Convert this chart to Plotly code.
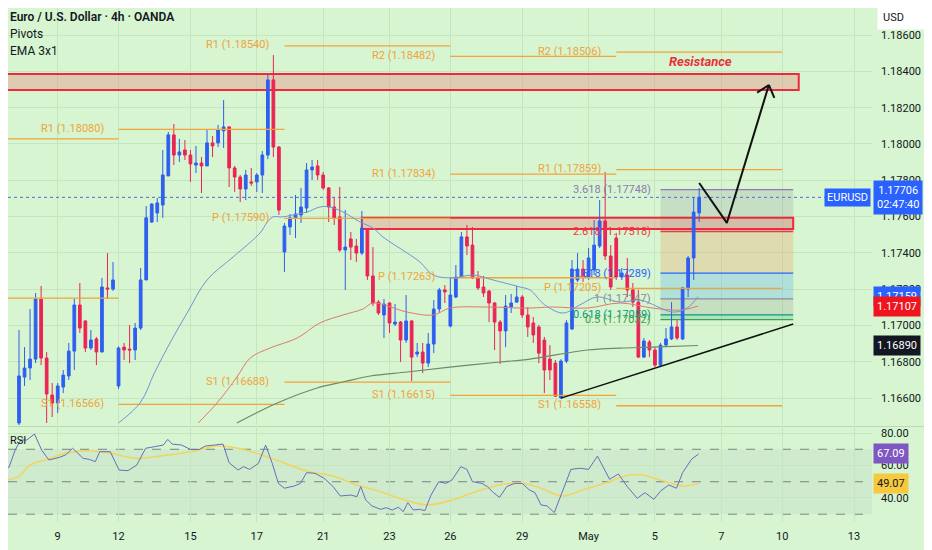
import math

import plotly.graph_objects as go

# 4h EUR/USD bars, index 0 = first bar visible on the left edge
opens = [1.16463, 1.16716, 1.16766, 1.16815, 1.17146, 1.16821, 1.16617, 1.16573, 1.16661, 1.16722,
         1.16859, 1.17113, 1.17025, 1.16876, 1.16926, 1.16854, 1.17207, 1.17201, 1.16667, 1.16881,
         1.16870, 1.16865, 1.16986, 1.17251, 1.17570, 1.17620, 1.17664, 1.17824, 1.18050, 1.17939,
         1.17967, 1.17939, 1.17884, 1.17895, 1.17879, 1.18006, 1.18006, 1.18072, 1.18094, 1.17868,
         1.17818, 1.17752, 1.17791, 1.17791, 1.17829, 1.17939, 1.18353, 1.17983, 1.17405, 1.17543,
         1.17593, 1.17609, 1.17647, 1.17857, 1.17879, 1.17829, 1.17758, 1.17653, 1.17598, 1.17416,
         1.17477, 1.17438, 1.17399, 1.17532, 1.17273, 1.17129, 1.17058, 1.17124, 1.17008, 1.17019,
         1.16920, 1.17025, 1.16843, 1.16854, 1.16793, 1.16898, 1.17091, 1.17196, 1.16997, 1.17157,
         1.17267, 1.17488, 1.17443, 1.17262, 1.17212, 1.17190, 1.17124, 1.17019, 1.16970, 1.17102,
         1.17129, 1.17157, 1.17058, 1.17014, 1.16992, 1.16920, 1.16815, 1.16793, 1.16601, 1.16804,
         1.16981, 1.17251, 1.17311, 1.17267, 1.17306, 1.17438, 1.17576, 1.17383, 1.17482, 1.17267,
         1.17278, 1.17196, 1.17129, 1.16826, 1.16909, 1.16865, 1.16782, 1.16892, 1.16926, 1.16992,
         1.16926, 1.17201, 1.17372, 1.17620]
highs = [1.16975, 1.16881, 1.17091, 1.17179, 1.17218, 1.16854, 1.16683, 1.16683, 1.16755, 1.16904,
         1.17146, 1.17234, 1.17030, 1.16975, 1.16937, 1.17262, 1.17399, 1.17350, 1.16885, 1.16904,
         1.17003, 1.17014, 1.17317, 1.17658, 1.17675, 1.17702, 1.17967, 1.18066, 1.18110, 1.18028,
         1.18022, 1.17967, 1.17989, 1.17928, 1.18077, 1.18044, 1.18105, 1.18242, 1.18099, 1.17879,
         1.17829, 1.17857, 1.17868, 1.17840, 1.17961, 1.18380, 1.18490, 1.17989, 1.17565, 1.17614,
         1.17719, 1.17758, 1.17895, 1.17912, 1.17912, 1.17846, 1.17763, 1.17708, 1.17763, 1.17636,
         1.17515, 1.17477, 1.17631, 1.17537, 1.17432, 1.17140, 1.17146, 1.17129, 1.17118, 1.17025,
         1.17168, 1.17030, 1.16904, 1.16904, 1.16959, 1.17140, 1.17207, 1.17223, 1.17267, 1.17333,
         1.17515, 1.17554, 1.17543, 1.17300, 1.17273, 1.17196, 1.17129, 1.17030, 1.17168, 1.17174,
         1.17218, 1.17168, 1.17102, 1.17047, 1.17003, 1.16937, 1.16892, 1.16810, 1.16815, 1.17030,
         1.17361, 1.17399, 1.17361, 1.17427, 1.17581, 1.17691, 1.17846, 1.17443, 1.17510, 1.17317,
         1.17372, 1.17234, 1.17196, 1.16931, 1.16920, 1.16881, 1.16904, 1.16986, 1.17129, 1.17030,
         1.17212, 1.17383, 1.17708, 1.17758]
lows = [1.16446, 1.16667, 1.16700, 1.16793, 1.16782, 1.16463, 1.16496, 1.16518, 1.16628, 1.16700,
        1.16755, 1.16959, 1.16854, 1.16865, 1.16782, 1.16854, 1.17146, 1.17190, 1.16650, 1.16810,
        1.16793, 1.16810, 1.16975, 1.17251, 1.17565, 1.17570, 1.17593, 1.17824, 1.17884, 1.17901,
        1.17912, 1.17791, 1.17840, 1.17730, 1.17879, 1.17928, 1.17983, 1.17978, 1.17763, 1.17736,
        1.17680, 1.17691, 1.17769, 1.17736, 1.17730, 1.17917, 1.17928, 1.17609, 1.17295, 1.17499,
        1.17482, 1.17565, 1.17620, 1.17802, 1.17802, 1.17747, 1.17570, 1.17554, 1.17405, 1.17196,
        1.17361, 1.17350, 1.17388, 1.17251, 1.17107, 1.17058, 1.16931, 1.16959, 1.16997, 1.16799,
        1.16904, 1.16694, 1.16826, 1.16738, 1.16771, 1.16848, 1.17069, 1.17124, 1.16990, 1.17151,
        1.17262, 1.17388, 1.17256, 1.17196, 1.17157, 1.17019, 1.16865, 1.16788, 1.16881, 1.17069,
        1.17124, 1.17041, 1.16937, 1.16904, 1.16793, 1.16628, 1.16700, 1.16606, 1.16595, 1.16793,
        1.16975, 1.17240, 1.17240, 1.17251, 1.17278, 1.17427, 1.17361, 1.17196, 1.17251, 1.17251,
        1.17157, 1.17102, 1.16821, 1.16821, 1.16826, 1.16771, 1.16771, 1.16881, 1.16920, 1.16920,
        1.16920, 1.17157, 1.17251, 1.17570]
closes = [1.16722, 1.16766, 1.16815, 1.17146, 1.16821, 1.16623, 1.16573, 1.16667, 1.16727, 1.16859,
          1.17113, 1.16986, 1.16876, 1.16920, 1.16854, 1.17212, 1.17201, 1.17251, 1.16876, 1.16865,
          1.16865, 1.16986, 1.17251, 1.17593, 1.17669, 1.17675, 1.17829, 1.18050, 1.17939, 1.17956,
          1.17939, 1.17890, 1.17895, 1.17879, 1.18006, 1.17989, 1.18077, 1.18094, 1.17868, 1.17818,
          1.17752, 1.17829, 1.17785, 1.17829, 1.17939, 1.18353, 1.17983, 1.17636, 1.17548, 1.17593,
          1.17614, 1.17653, 1.17857, 1.17873, 1.17829, 1.17758, 1.17653, 1.17593, 1.17416, 1.17432,
          1.17432, 1.17399, 1.17537, 1.17273, 1.17124, 1.17069, 1.17118, 1.17014, 1.17019, 1.16920,
          1.17025, 1.16826, 1.16854, 1.16793, 1.16898, 1.17091, 1.17196, 1.17185, 1.17168, 1.17267,
          1.17488, 1.17438, 1.17262, 1.17207, 1.17179, 1.17124, 1.17019, 1.16970, 1.17107, 1.17124,
          1.17157, 1.17058, 1.16992, 1.16948, 1.16848, 1.16755, 1.16755, 1.16610, 1.16804, 1.17014,
          1.17311, 1.17311, 1.17273, 1.17372, 1.17443, 1.17576, 1.17383, 1.17212, 1.17267, 1.17289,
          1.17196, 1.17129, 1.16826, 1.16915, 1.16865, 1.16782, 1.16892, 1.16926, 1.16992, 1.16931,
          1.17207, 1.17372, 1.17625, 1.17706]
last_price = 1.17706

# moving averages (bar index, price)
ema_fast_idx = [18, 22, 24.5, 27.3, 30.4, 34, 38.7, 43.6, 44.8, 45.9, 47.7, 49.5, 52.1, 54.4, 56.2,
                58.6, 61.7, 64, 65.8, 70.2, 72.5, 74.9, 78.5, 82.1, 85.7, 90.6, 92.4, 95.1, 98.4,
                101.4, 104.5, 108.7, 112.3, 118.3, 120.8, 122.8]
ema_fast = [1.16463, 1.16578, 1.16740, 1.16904, 1.17069, 1.17251, 1.17377, 1.17510, 1.17565, 1.17598,
            1.17598, 1.17609, 1.17625, 1.17653, 1.17653, 1.17625, 1.17570, 1.17537, 1.17488, 1.17399,
            1.17350, 1.17278, 1.17262, 1.17278, 1.17251, 1.17212, 1.17196, 1.17113, 1.17069, 1.17113,
            1.17157, 1.17129, 1.17140, 1.17074, 1.17096, 1.17159]
ema_mid_idx = [32.4, 35.8, 39.4, 41.8, 45.4, 50.3, 54.4, 58.6, 62.2, 64, 70.2, 74.9, 77.9, 84.6,
               91.9, 96.6, 102.7, 108.7, 114.6, 119.5, 122.8]
ema_mid = [1.16463, 1.16573, 1.16716, 1.16821, 1.16876, 1.16931, 1.17014, 1.17058, 1.17091, 1.17124,
           1.17074, 1.17058, 1.17096, 1.17102, 1.17096, 1.17102, 1.17096, 1.17124, 1.17096, 1.17085,
           1.17107]
ema_slow_idx = [39.4, 46.7, 53.9, 58.6, 63.5, 70.2, 77.9, 87, 92.4, 102.7, 108.7, 114.6, 122.8]
ema_slow = [1.16463, 1.16573, 1.16656, 1.16689, 1.16722, 1.16744, 1.16771, 1.16799, 1.16815,
            1.16865, 1.16876, 1.16881, 1.16890]

# RSI and its moving average
rsi_idx = [-3.4, -1.8, -0.7, 0.3, 1.4, 2.8, 4.1, 5.4, 7.3, 8.4, 9.7, 11.6, 12.7, 13.8, 14.6, 16.5,
           18.1, 19.7, 21.3, 22.9, 24.5, 26.1, 26.9, 27.7, 29.4, 31.0, 32.6, 33.7, 35.3, 36.9, 38.0,
           39.6, 40.6, 41.7, 43.3, 44.6, 45.8, 46.9, 48.0, 49.8, 50.9, 52.0, 53.5, 55.2, 56.8, 58.1,
           60.0, 61.1, 61.8, 62.7, 63.8, 65.4, 66.4, 67.5, 68.6, 69.5, 70.3, 71.3, 72.4, 73.4, 74.5,
           75.9, 77.2, 78.3, 79.9, 81.0, 82.0, 83.7, 84.7, 85.8, 86.9, 88.2, 89.6, 91.0, 92.3, 93.3,
           94.4, 95.5, 96.8, 98.2, 99.8, 101.4, 103.0, 104.6, 106.8, 108.4, 110.0, 111.8, 113.2,
           114.8, 116.1, 117.5, 118.9, 120.0, 121.6, 122.9]
rsi_val = [56.2, 59, 69.5, 75.7, 75.7, 79.4, 69.5, 63.4, 65, 66.5, 70.6, 64.4, 63.8, 62.4, 68.5, 68.5,
           57.2, 56.8, 60.3, 70.6, 71.6, 72.6, 76.1, 73.2, 72.6, 69.9, 69.9, 72, 72.6, 73.2, 61.7,
           57.2, 59.3, 57.6, 61.3, 72.6, 61.3, 49, 46, 47.4, 49, 55.6, 55.2, 52.1, 47, 41.2,
           41.8, 40.8, 47, 38.8, 35.1, 33, 34, 32.6, 34.3, 31.6, 37.1, 32.6, 33, 32.2, 41.8,
           50, 49, 51.1, 59.3, 57.6, 50, 49, 47, 43.3, 40.4, 47, 49, 49, 44.9, 43.3,
           35.7, 35.1, 31, 43.3, 57.6, 58.3, 57.6, 65.8, 51.5, 54.8, 47, 39.8, 43.3,
           39.2, 44.5, 48, 46, 55.6, 63.8, 67.09]
rsi_ma_idx = [-3.4, -0.2, 2.0, 5.2, 8.4, 12.7, 16.5, 21.3, 25.6, 31.0, 35.8, 39.6, 43.9, 48.2, 52.5,
              56.8, 61.1, 65.4, 69.7, 74.0, 78.3, 82.6, 86.9, 91.2, 94.4, 98.2, 101.9, 106.2, 110.5,
              112.7, 115.9, 120.2, 122.9]
rsi_ma = [50.5, 53, 60.3, 63.8, 67.5, 69.1, 67.5, 64.4, 65.8, 68.5, 72, 70.6, 66.5, 61.3, 56.2,
          53.5, 48, 43.9, 38.8, 35.7, 38.8, 43.9, 48, 49, 46, 41.2, 44.9, 49.4, 54.2,
          54.2, 51.1, 47.4, 49.07]

# weekly pivots
piv_name = ["R1", "P", "R1", "S1", "R1", "P", "S1", "R2", "R1", "P", "S1", "R2", "R1", "P", "S1"]
piv_value = [1.18028, 1.17151, 1.18080, 1.16566, 1.18540, 1.17590, 1.16688,
             1.18482, 1.17834, 1.17263, 1.16615, 1.18506, 1.17859, 1.17205, 1.16558]
piv_start = [-4, -4, 18, 18, 48, 48, 48, 78, 78, 78, 78, 108, 108, 108, 108]
piv_end = [18, 18, 48, 48, 78, 78, 78, 108, 108, 108, 108, 138, 138, 138, 138]

# fibonacci extension box
fib_ratio = ["3.618", "2.618", "1.618", "1", "0.618", "0.5"]
fib_price = [1.17748, 1.17518, 1.17289, 1.17147, 1.17059, 1.17032]
fib_start, fib_end = 116, 140

# resistance zones
zone_lo = [1.18298, 1.17532]
zone_hi = [1.18386, 1.17593]
zone_start = [-4, 62]
zone_end = [141, 140]

# drawings
trend_idx = [98, 140]
trend_price = [1.16600, 1.17008]
path_idx = [123, 128, 135.6]
path_price = [1.17785, 1.17565, 1.18325]

tick_idx = [7, 18, 31, 43, 55, 67, 78, 91, 103, 115, 127, 138, 151]
tick_text = ["9", "12", "15", "17", "21", "23", "26", "29", "May", "5", "7", "10", "13"]
price_ticks = [1.166, 1.168, 1.170, 1.172, 1.174, 1.176, 1.178, 1.180, 1.182, 1.184, 1.186]
rsi_ticks = [40, 60, 80]

BG = "#d6f5d0"
GRID = "#c4e6bf"
UP = "#2f5ff0"
DOWN = "#ec2456"
ORANGE = "#f2a33a"
TXT = "#131722"
FIB_LINE = ["#9079b8", "#f23645", "#2962ff", "#8a8d96", "#089981", "#43a047"]
FIB_FILL = ["rgba(130,130,150,0.20)", "rgba(240,160,100,0.30)", "rgba(80,170,240,0.28)",
            "rgba(130,130,130,0.18)", "rgba(8,153,129,0.20)"]

# the page puts the figure 8px in from the corner, so the figure covers the
# reference from (8, 8) onwards
X0, X1 = -1.99, 154.25
Y0, Y1 = 1.16452, 1.18749
R0, R1 = 25.2, 83.1
PLOT_W, PLOT_H, MAIN_H, RSI_H = 864, 514, 417, 94
OFF = 8

fig = go.Figure()

# pivot lines
for name, val, s, e in zip(piv_name, piv_value, piv_start, piv_end):
    fig.add_trace(go.Scatter(x=[s, e], y=[val, val], mode="lines",
                             line=dict(color=ORANGE, width=1.3), hoverinfo="skip"))
    if s >= 0:
        fig.add_annotation(x=s, y=val, text=f"{name} ({val:.5f})", showarrow=False,
                           xanchor="right", xshift=-13, yshift=1,
                           font=dict(size=11, color=ORANGE))

# moving averages
for xs, ys, col, w in [(ema_slow_idx, ema_slow, "#6d8a6a", 1.2),
                       (ema_mid_idx, ema_mid, "#df7a6c", 1),
                       (ema_fast_idx, ema_fast, "#6f95d8", 1)]:
    fig.add_trace(go.Scatter(x=xs, y=ys, mode="lines", line=dict(color=col, width=w, shape="spline"),
                             hoverinfo="skip"))

fig.add_trace(go.Candlestick(
    x=list(range(len(opens))), open=opens, high=highs, low=lows, close=closes,
    increasing=dict(line=dict(color=UP, width=1), fillcolor=UP),
    decreasing=dict(line=dict(color=DOWN, width=1), fillcolor=DOWN),
    whiskerwidth=0, hoverinfo="skip",
))

# trendline and projected path
fig.add_trace(go.Scatter(x=trend_idx, y=trend_price, mode="lines", line=dict(color="#111", width=1.5),
                         hoverinfo="skip"))
fig.add_trace(go.Scatter(x=path_idx, y=path_price, mode="lines", line=dict(color="#111", width=2),
                         hoverinfo="skip"))

# open arrow head at the end of the path, built in pixel space
sx = PLOT_W / (X1 - X0)
sy = MAIN_H / (Y1 - Y0)
dx = (path_idx[-1] - path_idx[-2]) * sx
dy = (path_price[-1] - path_price[-2]) * sy
norm = math.hypot(dx, dy)
ux, uy = dx / norm, dy / norm
wing_x, wing_y = [], []
for ang in (math.radians(40), -math.radians(40)):
    rx = ux * math.cos(ang) - uy * math.sin(ang)
    ry = ux * math.sin(ang) + uy * math.cos(ang)
    wing_x += [path_idx[-1] - 14 * rx / sx, path_idx[-1], None]
    wing_y += [path_price[-1] - 14 * ry / sy, path_price[-1], None]
fig.add_trace(go.Scatter(x=wing_x, y=wing_y, mode="lines", line=dict(color="#111", width=2),
                         hoverinfo="skip"))

# RSI pane
fig.add_trace(go.Scatter(x=rsi_ma_idx, y=rsi_ma, xaxis="x2", yaxis="y2", mode="lines",
                         line=dict(color="#f2d463", width=1.6, shape="spline"), hoverinfo="skip"))
fig.add_trace(go.Scatter(x=rsi_idx, y=rsi_val, xaxis="x2", yaxis="y2", mode="lines",
                         line=dict(color="#6a6cc0", width=1), hoverinfo="skip"))

shapes = []
for k in range(len(fib_price) - 1):
    shapes.append(dict(type="rect", xref="x", yref="y", x0=fib_start, x1=fib_end,
                       y0=fib_price[k + 1], y1=fib_price[k], fillcolor=FIB_FILL[k],
                       line=dict(width=0), layer="between"))
for lo, hi, s, e in zip(zone_lo, zone_hi, zone_start, zone_end):
    shapes.append(dict(type="rect", xref="x", yref="y", x0=s, x1=e, y0=lo, y1=hi,
                       fillcolor="rgba(235,130,120,0.35)", line=dict(color="#ee2a3c", width=2),
                       layer="between"))
for k, (r, p) in enumerate(zip(fib_ratio, fib_price)):
    shapes.append(dict(type="line", xref="x", yref="y", x0=fib_start, x1=fib_end, y0=p, y1=p,
                       line=dict(color=FIB_LINE[k], width=1.3), layer="between"))
    fig.add_annotation(x=fib_start, y=p, text=f"{r} ({p:.5f})", showarrow=False,
                       xanchor="right", xshift=-7, font=dict(size=11, color=FIB_LINE[k]))

shapes.append(dict(type="line", xref="x", yref="y", x0=X0, x1=X1, y0=last_price, y1=last_price,
                   line=dict(color="#4a6fd8", width=1, dash="dot"), layer="between"))
shapes.append(dict(type="rect", xref="x2", yref="y2", x0=X0, x1=X1, y0=30, y1=70,
                   fillcolor="rgba(120,110,170,0.07)", line=dict(width=0), layer="below"))
for lvl in (70, 50, 30):
    shapes.append(dict(type="line", xref="x2", yref="y2", x0=X0, x1=X1, y0=lvl, y1=lvl,
                       line=dict(color="#7d8580", width=1, dash="dash"), layer="below"))
sep_y = 1 - (MAIN_H + 1.5) / PLOT_H
shapes.append(dict(type="line", xref="paper", yref="paper", x0=0, x1=1.07, y0=sep_y, y1=sep_y,
                   line=dict(color="#b9dbb4", width=1)))

fig.add_annotation(x=path_idx[-1] - 12.4, y=1.18457, text="<b><i>Resistance</i></b>", showarrow=False,
                   font=dict(size=13, color="#e8303a"))


def tag(y, text, bg, fg="white", yref="y"):
    fig.add_annotation(xref="paper", x=1, xanchor="left", xshift=1, yref=yref, y=y, text=text,
                       showarrow=False, bgcolor=bg, borderpad=3, font=dict(size=11, color=fg))


tag(1.17159, "1.17159", "#2962ff")
tag(1.17107, "1.17107", "#f0141e")
tag(1.16890, "1.16890", "#131722")
tag(last_price, "1.17706<br>02:47:40", "#2962ff")
tag(rsi_val[-1], "67.09", "#7e57c2", yref="y2")
tag(rsi_ma[-1], "49.07", "#f7c93e", fg=TXT, yref="y2")
fig.add_annotation(xref="paper", x=1, xanchor="right", xshift=-1, y=last_price, text="EURUSD",
                   showarrow=False, bgcolor="#2962ff", borderpad=2, font=dict(size=11, color="white"))


def paper_xy(px, py):
    # reference-pixel position -> paper coordinates of this figure
    return (px - OFF) / PLOT_W, 1 - (py - OFF) / PLOT_H


ux_, uy_ = paper_xy(877, 17)
fig.add_annotation(xref="paper", yref="paper", x=ux_, y=uy_, xanchor="left", yanchor="middle",
                   text="USD", showarrow=False, bgcolor="white", width=42,
                   align="left", borderpad=5, font=dict(size=11, color=TXT))

for k, (txt, py) in enumerate([("Euro / U.S. Dollar · 4h · OANDA", 17), ("Pivots", 34), ("EMA 3x1", 51)]):
    hx, hy = paper_xy(8, py)
    fig.add_annotation(xref="paper", yref="paper", x=hx, y=hy, xanchor="left", yanchor="middle",
                       text=txt, showarrow=False,
                       font=dict(size=12, color=TXT, weight=600 if k == 0 else 400))
rx_, ry_ = paper_xy(8, 440)
fig.add_annotation(xref="paper", yref="paper", x=rx_, y=ry_, xanchor="left", yanchor="middle",
                   text="RSI", showarrow=False, font=dict(size=11, color=TXT))

fig.update_layout(
    width=924, height=542,
    margin=dict(l=0, r=60, t=0, b=28),
    paper_bgcolor=BG, plot_bgcolor=BG,
    font=dict(family="Roboto", color=TXT),
    showlegend=False,
    shapes=shapes,
    xaxis=dict(domain=[0, 1], range=[X0, X1], anchor="y", tickvals=tick_idx, showticklabels=False,
               showgrid=True, gridcolor=GRID, zeroline=False, rangeslider=dict(visible=False)),
    xaxis2=dict(domain=[0, 1], range=[X0, X1], anchor="y2", matches="x", tickvals=tick_idx,
                ticktext=tick_text, showgrid=True, gridcolor=GRID, zeroline=False,
                tickfont=dict(size=11, color=TXT), ticks="", ticklabelstandoff=6),
    yaxis=dict(domain=[1 - MAIN_H / PLOT_H, 1], range=[Y0, Y1], side="right", tickvals=price_ticks,
               tickformat=".5f", showgrid=True, gridcolor=GRID, zeroline=False, ticks="",
               ticklabelstandoff=8, tickfont=dict(size=11, color=TXT)),
    yaxis2=dict(domain=[0, RSI_H / PLOT_H], range=[R0, R1], side="right", tickvals=rsi_ticks,
                tickformat=".2f", showgrid=True, gridcolor=GRID, zeroline=False, ticks="",
                ticklabelstandoff=8, tickfont=dict(size=11, color=TXT)),
)

fig.write_html("out.html")
